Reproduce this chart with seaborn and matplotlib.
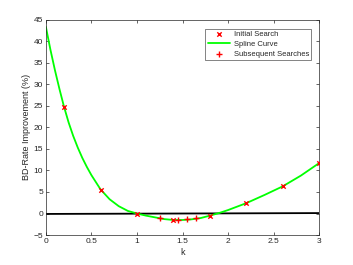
import matplotlib
matplotlib.use('Agg')
import matplotlib.pyplot as plt
import pandas as pd
import seaborn as sns

# initial search points
init_k = [0.2, 0.6, 1.0, 1.4, 1.8, 2.2, 2.6, 3.0]
init_val = [24.7, 5.5, 0.0, -1.5, -0.5, 2.4, 6.3, 11.7]

# subsequent searches
sub_k = [1.25, 1.45, 1.55, 1.65]
sub_val = [-1.15, -1.5, -1.25, -1.15]

# spline curve
curve_k = [0, 0.05, 0.1, 0.15, 0.2, 0.25, 0.3, 0.35, 0.4, 0.45, 0.5, 0.6, 0.7, 0.8, 0.9,
           1.0, 1.1, 1.2, 1.3, 1.4, 1.5, 1.6, 1.7, 1.8, 1.9, 2.0, 2.1, 2.2,
           2.4, 2.6, 2.8, 3.0]
curve_val = [43.3, 38.0, 33.2, 28.8, 24.7, 21.1, 18.0, 15.3, 12.9, 10.8, 8.9, 5.6, 3.3, 1.7, 0.6,
             0.0, -0.5, -0.9, -1.3, -1.5, -1.5, -1.35, -1.05, -0.5, 0.1, 0.8, 1.6, 2.4,
             4.3, 6.3, 8.8, 11.7]

# near-zero reference line
ref_k = [0, 3]
ref_val = [-0.1, 0.1]

sns.set_style('white')
plt.rcParams['font.family'] = ['Liberation Sans', 'DejaVu Sans']

fig = plt.figure(figsize=(3.53, 2.65), dpi=100)
ax = fig.add_axes([0.130, 0.113, 0.774, 0.813])

sns.lineplot(x=ref_k, y=ref_val, ax=ax, color='black', linewidth=1.3, legend=False)
sns.lineplot(x=curve_k, y=curve_val, ax=ax, color='#00ff00', linewidth=1.3, sort=False,
             label='Spline Curve')
sns.scatterplot(x=init_k, y=init_val, ax=ax, marker='x', color='red', s=10, linewidth=1.0,
                label='Initial Search', zorder=4)
sns.scatterplot(x=sub_k, y=sub_val, ax=ax, marker='+', color='red', s=14, linewidth=1.0,
                label='Subsequent Searches', zorder=4)

ax.set_xlim(0, 3)
ax.set_ylim(-5, 45)
ax.set_xticks([0, 0.5, 1, 1.5, 2, 2.5, 3])
ax.set_xticklabels(['0', '0.5', '1', '1.5', '2', '2.5', '3'])
ax.set_yticks(range(-5, 46, 5))
ax.tick_params(direction='in', length=2.5, width=0.5, labelsize=6, colors='#262626',
               bottom=True, left=True, top=True, right=True, pad=2)
for s in ax.spines.values():
    s.set_linewidth(0.5)
    s.set_color('#262626')
ax.set_xlabel('k', fontsize=6.5, color='#262626', labelpad=2)
ax.set_ylabel('BD-Rate Improvement (%)', fontsize=6.5, color='#262626', labelpad=2)

h, l = ax.get_legend_handles_labels()
order = [l.index('Initial Search'), l.index('Spline Curve'), l.index('Subsequent Searches')]
leg = ax.legend([h[i] for i in order], [l[i] for i in order], loc='upper right',
                fontsize=5.5, frameon=True, fancybox=False, edgecolor='#262626',
                borderpad=0.3, labelspacing=0.3, handlelength=3, handletextpad=0.4,
                bbox_to_anchor=(0.985, 0.975))
leg.get_frame().set_linewidth(0.5)

fig.savefig('out.png', dpi=100)
